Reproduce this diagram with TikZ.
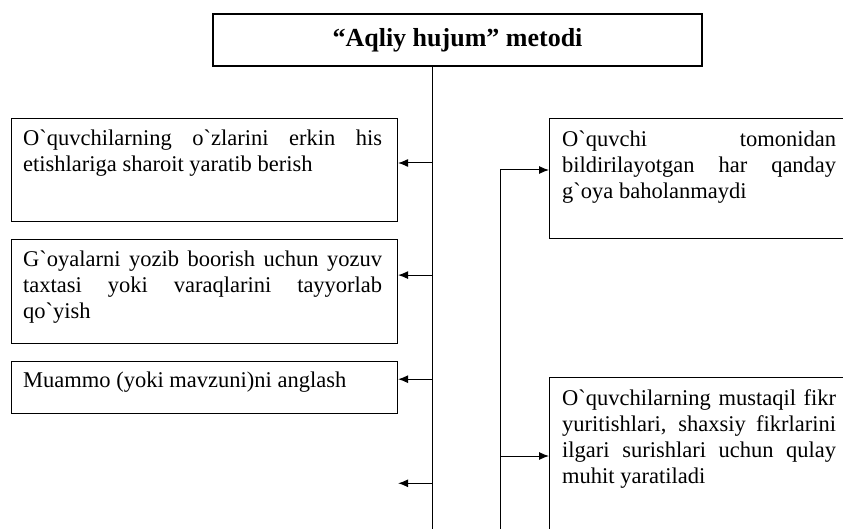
\documentclass[tikz,border=0pt]{standalone}
\usepackage{fontspec}
\setmainfont{Liberation Serif}[Ligatures=TeXOff]
\usetikzlibrary{positioning}
\usetikzlibrary{arrows.meta}
\hyphenpenalty=10000
\exhyphenpenalty=10000

\tikzset{
  frame/.style={draw, line width=1.1pt, inner sep=0pt, anchor=north west},
  idea/.style={anchor=north west, inner xsep=12pt, inner ysep=12pt, align=justify,
    font=\fontsize{22.5}{26}\selectfont},
  arr/.style={line width=1pt, -{Latex[length=10pt,width=8pt]}},
}

\begin{document}
\begin{tikzpicture}[x=1pt,y=-1pt]
        \useasboundingbox (0,0) rectangle (843,529);
        \clip (0,0) rectangle (843,529);
        %% Title and the main line.
        \node[draw, line width=1.4pt, minimum width=489pt, minimum height=52pt,
          font=\bfseries\fontsize{26}{30}\selectfont] (title) at (457.5,40) {“Aqliy hujum” metodi};
        \coordinate (trunk) at ([xshift=-25.5pt]title.south);
        \draw[line width=1pt] (trunk) -- ++(0,463);
        %% Left column.
        \node[frame, minimum width=386pt, minimum height=103pt] (l1) at (11,118) {};
        \node[frame, minimum width=386pt, minimum height=104pt, below=17pt of l1.south west, anchor=north west] (l2) {};
        \node[frame, minimum width=386pt, minimum height=52pt, below=17pt of l2.south west, anchor=north west] (l3) {};
        \node[idea, text width=359pt] (l1t) at (l1.north west) {O`quvchilarning o`zlarini erkin his\linebreak etishlariga sharoit yaratib berish};
        \node[idea, text width=359pt] (l2t) at (l2.north west) {G`oyalarni yozib boorish uchun yozuv\linebreak taxtasi yoki varaqlarini tayyorlab\linebreak qo`yish};
        \node[idea, text width=359pt, inner ysep=10pt] (l3t) at (l3.north west) {Muammo (yoki mavzuni)ni anglash};
        \coordinate (a1) at ([yshift=-45pt]l1.north east);
        \coordinate (a2) at ([yshift=-36pt]l2.north east);
        \coordinate (a3) at ([yshift=-18pt]l3.north east);
        \coordinate (a4) at ([yshift=-69pt]l3.south east);
        \draw[arr] (a1 -| trunk) -- (a1);
        \draw[arr] (a2 -| trunk) -- (a2);
        \draw[arr] (a3 -| trunk) -- (a3);
        \draw[arr] (a4 -| trunk) -- (a4);
        %% Right column.
        \node[frame, minimum width=320pt, minimum height=120pt] (r1) at (549,118) {};
        \node[frame, minimum width=320pt, minimum height=200pt] (r2) at (549,377) {};
        \node[idea, text width=274pt, inner xsep=13pt, inner ysep=13pt] (r1t) at (r1.north west) {O`quvchi tomonidan\linebreak bildirilayotgan har qanday\linebreak g`oya baholanmaydi};
        \node[idea, text width=274pt, inner xsep=13pt] (r2t) at (r2.north west) {O`quvchilarning mustaqil fikr\linebreak yuritishlari, shaxsiy fikrlarini\linebreak ilgari surishlari uchun qulay\linebreak muhit yaratiladi};
        \coordinate (b1) at ([yshift=-52pt]r1.north west);
        \coordinate (b2) at ([yshift=-79pt]r2.north west);
        \coordinate (rtrunk) at ([xshift=-49pt]b1);
        \draw[arr] ([yshift=-359pt]rtrunk) -- (rtrunk) -- (b1);
        \draw[arr] (b2 -| rtrunk) -- (b2);
      \end{tikzpicture}
\end{document}
